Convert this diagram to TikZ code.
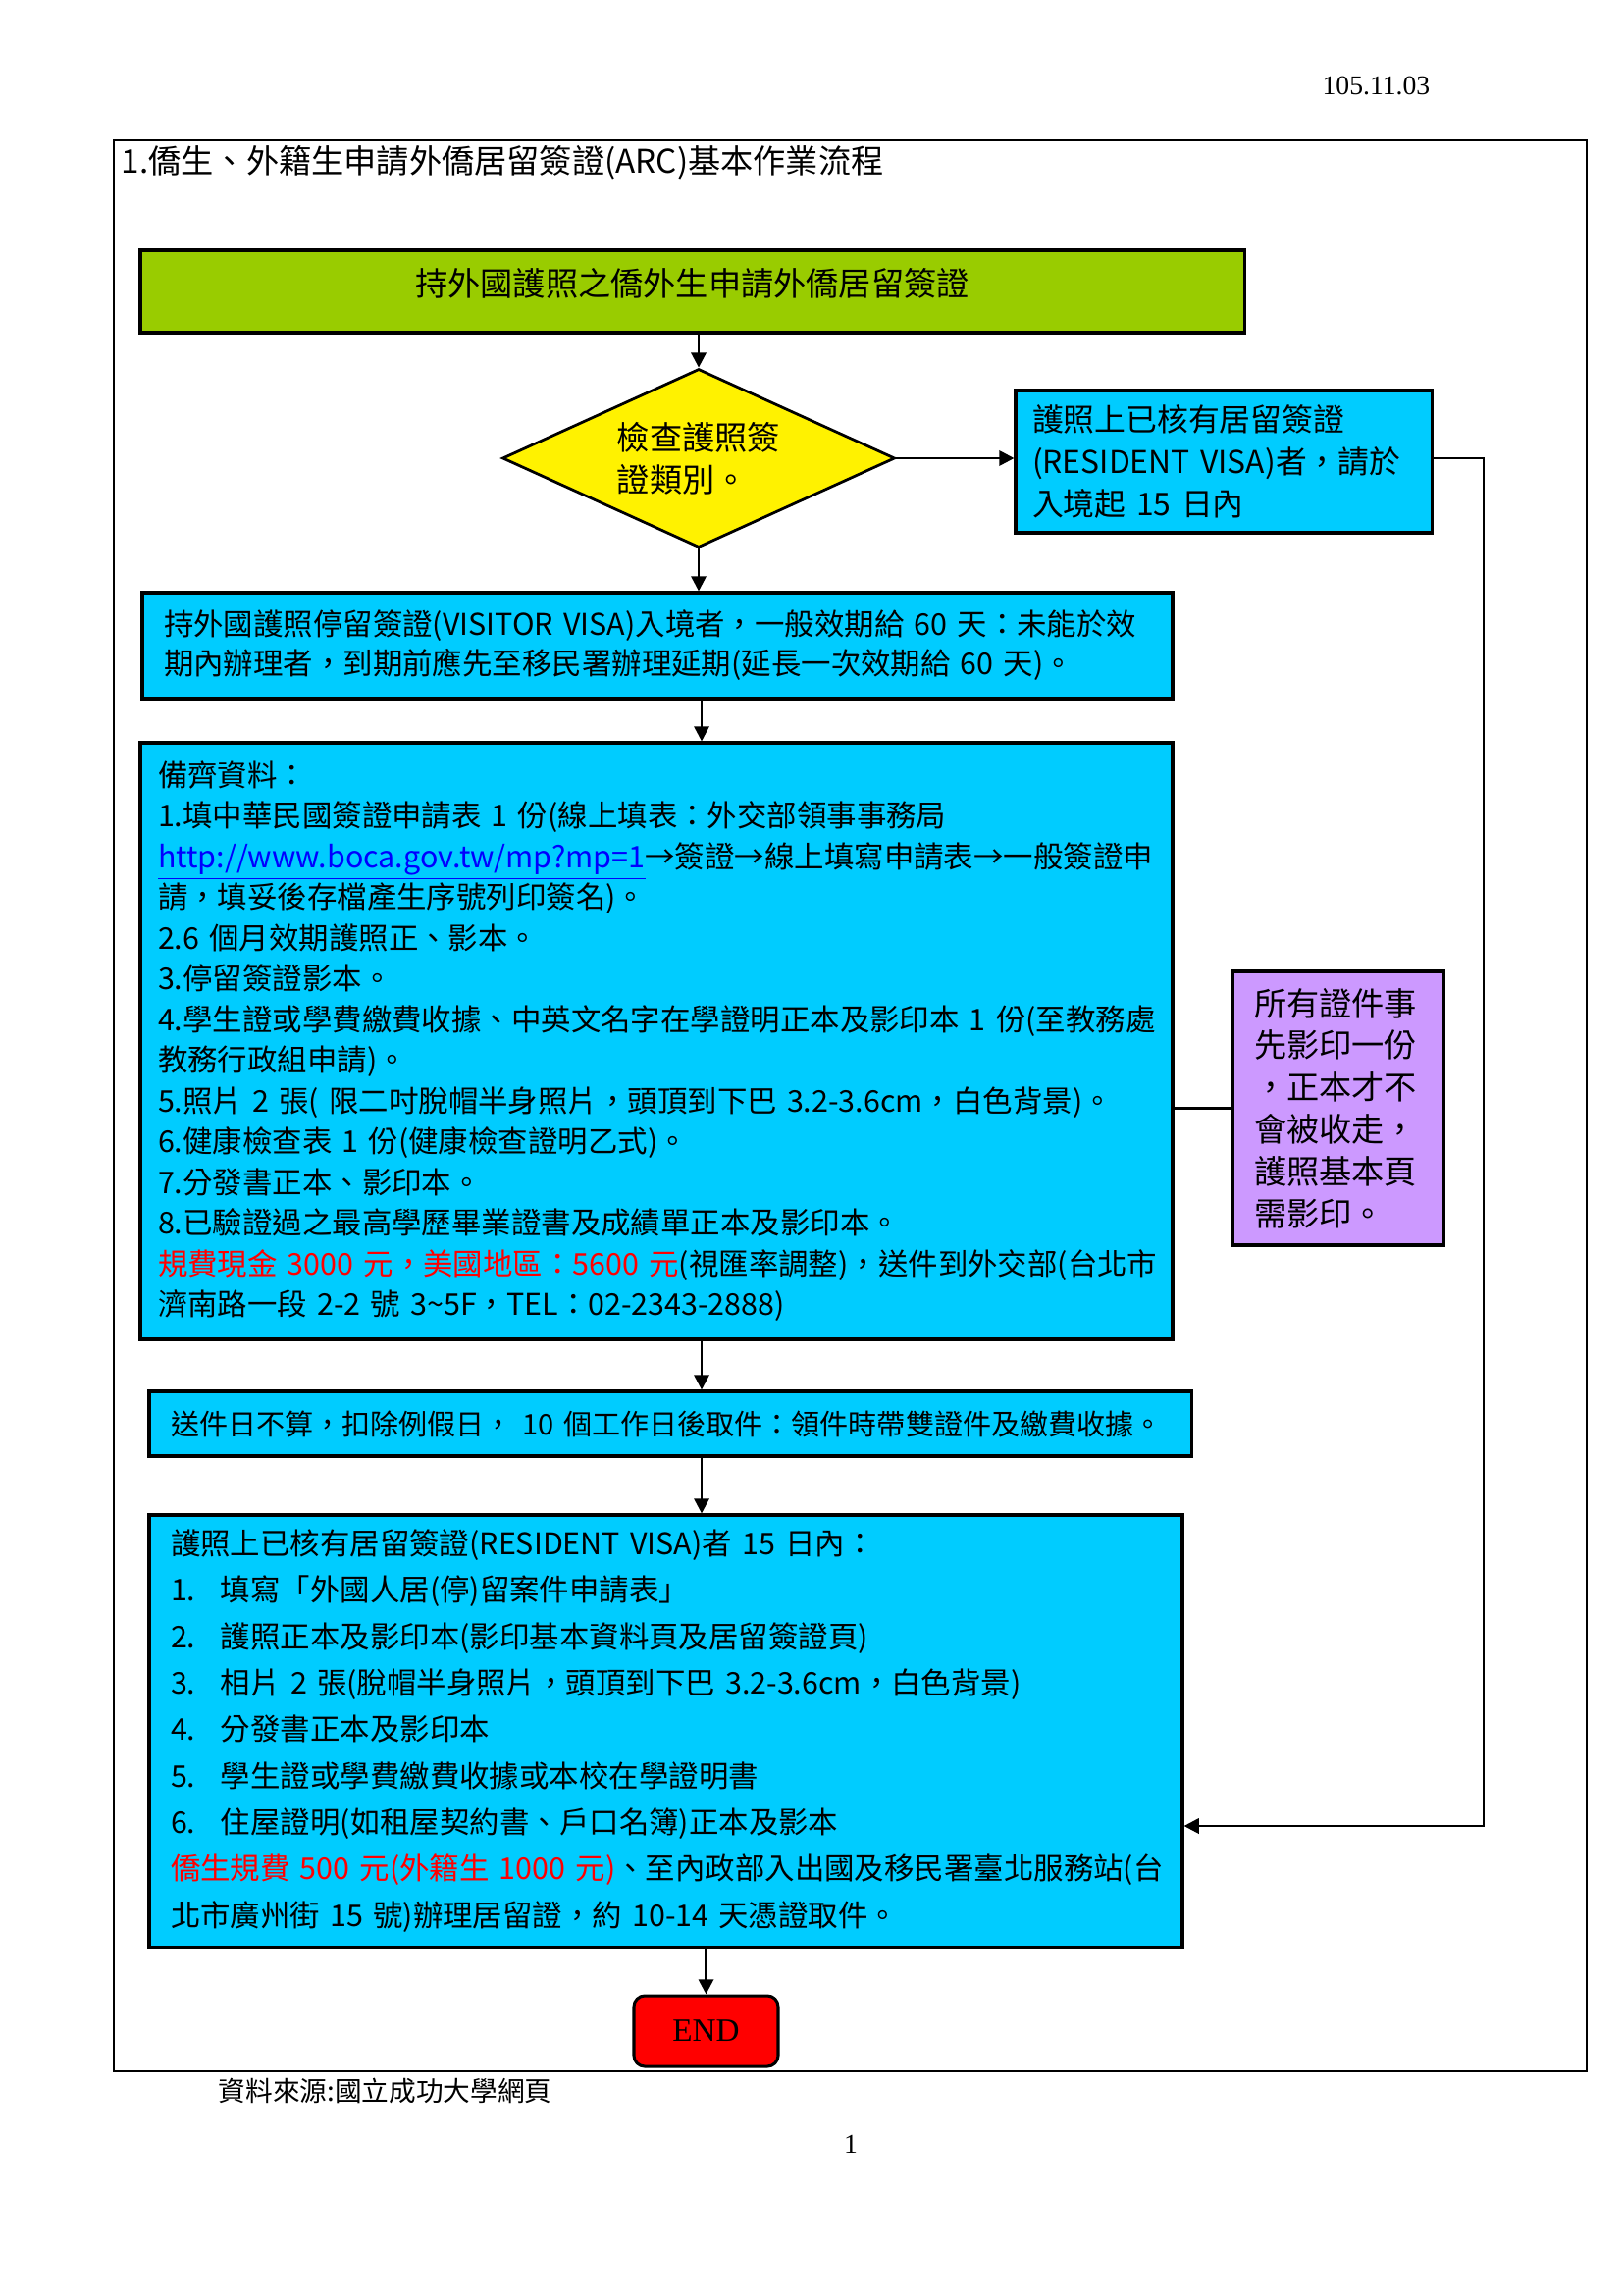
\documentclass[tikz,border=0pt]{standalone}
\usepackage{fontspec}
\setmainfont{Noto Sans CJK TC}
\newfontfamily\latinserif{Liberation Serif}
\usetikzlibrary{shapes.geometric}
\usetikzlibrary{arrows.meta}

\definecolor{titlegreen}{RGB}{153,204,0}
\definecolor{boxcyan}{RGB}{0,204,255}
\definecolor{notepurple}{RGB}{204,153,255}
\definecolor{urlblue}{RGB}{0,0,255}

% one pixel of the A4 page at 200 dpi
\newlength\pxu
\setlength\pxu{0.36135pt}
\newcommand\itemno[1]{\makebox[51\pxu][l]{#1}}

\begin{document}
\begin{tikzpicture}[
      x=0.36135pt, y=-0.36135pt,
      titlebar/.style={rectangle, draw, line width=1.1pt, fill=titlegreen, minimum width=1125\pxu, minimum height=84\pxu, text depth=7pt, font=\fontsize{12}{15}\selectfont},
      decision/.style={diamond, draw, line width=1pt, fill=yellow, minimum width=400\pxu, minimum height=182\pxu, inner sep=0pt, aspect=2.2, align=left, font=\fontsize{12}{15.5}\selectfont},
      infobox/.style={rectangle, draw, line width=1.1pt, fill=boxcyan, align=left, inner xsep=22\pxu, inner ysep=0pt},
      notebox/.style={infobox, fill=notepurple},
      endbox/.style={rectangle, rounded corners=4pt, draw, line width=1.1pt, fill=red, minimum width=147\pxu, minimum height=72\pxu, font=\latinserif\fontsize{12}{14}\selectfont},
      arrow/.style={-{Triangle[length=5.5pt,width=5.5pt]}, line width=1pt},
      link/.style={line width=1pt}
      ]

      \useasboundingbox (0,0) rectangle (1654,2339);

      % Page
      \node[anchor=east, font=\latinserif\fontsize{10}{12}\selectfont] (date) at (1467,88) {105.11.03};
      \draw[line width=1pt] (116,143) rectangle (1617,2111);
      \node[anchor=west, font=\fontsize{12}{14}\selectfont] (title) at (114,166) {1.僑生、外籍生申請外僑居留簽證(ARC)基本作業流程};

      % Nodes
      \node[titlebar] (apply) at (705.5,297) {持外國護照之僑外生申請外僑居留簽證};
      \node[decision] (check) at (712,467) {檢查護照簽\\證類別。};
      \node[infobox, inner xsep=17\pxu, text width=390\pxu, minimum width=424\pxu, minimum height=145\pxu, font=\fontsize{11.5}{15.5}\selectfont] (resident) at (1247,470.5) {護照上已核有居留簽證\\(RESIDENT~VISA)者，請於\\入境起~15~日內};

      \node[infobox, text width=1006\pxu, minimum width=1050\pxu, minimum height=108\pxu, font=\fontsize{11}{14.5}\selectfont] (visitor) at (670,658) {持外國護照停留簽證(VISITOR~VISA)入境者，一般效期給~60~天：未能於效\\期內辦理者，到期前應先至移民署辦理延期(延長一次效期給~60~天)。};

      \node[infobox, inner xsep=18\pxu, text width=1016\pxu, minimum width=1052\pxu, minimum height=608\pxu, font=\fontsize{11}{15}\selectfont] (docs) at (669,1061) {備齊資料：\\
1.填中華民國簽證申請表~1~份(線上填表：外交部領事事務局\\
\textcolor{urlblue}{\underline{http://www.boca.gov.tw/mp?mp=1}}→簽證→線上填寫申請表→一般簽證申\\
請，填妥後存檔產生序號列印簽名)。\\
2.6~個月效期護照正、影本。\\
3.停留簽證影本。\\
4.學生證或學費繳費收據、中英文名字在學證明正本及影印本~1~份(至教務處\\
教務行政組申請)。\\
5.照片~2~張(~限二吋脫帽半身照片，頭頂到下巴~3.2-3.6cm，白色背景)。\\
6.健康檢查表~1~份(健康檢查證明乙式)。\\
7.分發書正本、影印本。\\
8.已驗證過之最高學歷畢業證書及成績單正本及影印本。\\
\textcolor{red}{規費現金~3000~元，美國地區：5600~元}(視匯率調整)，送件到外交部(台北市\\
濟南路一段~2-2~號~3\textasciitilde5F，TEL：02-2343-2888)};

      \node[notebox, text width=171\pxu, minimum width=215\pxu, minimum height=279\pxu, font=\fontsize{12}{15.5}\selectfont] (notes) at (1363.5,1129.5) {所有證件事\\先影印一份\\，正本才不\\會被收走，\\護照基本頁\\需影印。};

      \node[infobox, text width=1018\pxu, minimum width=1062\pxu, minimum height=66\pxu, font=\fontsize{10.5}{13}\selectfont] (submit) at (683,1451) {送件日不算，扣除例假日，~10~個工作日後取件：領件時帶雙證件及繳費收據。};

      \node[infobox, text width=1009\pxu, minimum width=1053\pxu, minimum height=440\pxu, font=\fontsize{11}{17.1}\selectfont] (final) at (678.5,1764) {護照上已核有居留簽證(RESIDENT~VISA)者~15~日內：\\
\itemno{1.}填寫「外國人居(停)留案件申請表」\\
\itemno{2.}護照正本及影印本(影印基本資料頁及居留簽證頁)\\
\itemno{3.}相片~2~張(脫帽半身照片，頭頂到下巴~3.2-3.6cm，白色背景)\\
\itemno{4.}分發書正本及影印本\\
\itemno{5.}學生證或學費繳費收據或本校在學證明書\\
\itemno{6.}住屋證明(如租屋契約書、戶口名簿)正本及影本\\
\textcolor{red}{僑生規費~500~元(外籍生~1000~元)}、至內政部入出國及移民署臺北服務站(台\\
北市廣州街~15~號)辦理居留證，約~10-14~天憑證取件。};

      \node[endbox] (finish) at (719.5,2070) {END};

      \node[anchor=west, font=\fontsize{10}{12}\selectfont] (source) at (213,2131) {資料來源:國立成功大學網頁};
      \node[font=\latinserif\fontsize{10}{12}\selectfont] (pageno) at (867,2185) {1};

      % Arrows
      \coordinate (spine) at (715,0);
      \coordinate (turn) at (1512,1861);
      \draw[arrow] (check.north |- apply.south) -- (check.north);
      \draw[arrow] (check.east) -- (check.east -| resident.west);
      \draw[arrow] (check.south) -- (check.south |- visitor.north);
      \draw[arrow] (visitor.south -| spine) -- (docs.north -| spine);
      \draw[arrow] (docs.south -| spine) -- (submit.north -| spine);
      \draw[arrow] (submit.south -| spine) -- (final.north -| spine);
      \draw[arrow] (final.south -| finish.north) -- (finish.north);
      \draw[arrow] (check.east -| resident.east) -| (turn) -- (turn -| final.east);
      \draw[link] (notes.west) -- (notes.west -| docs.east);

    \end{tikzpicture}
\end{document}
